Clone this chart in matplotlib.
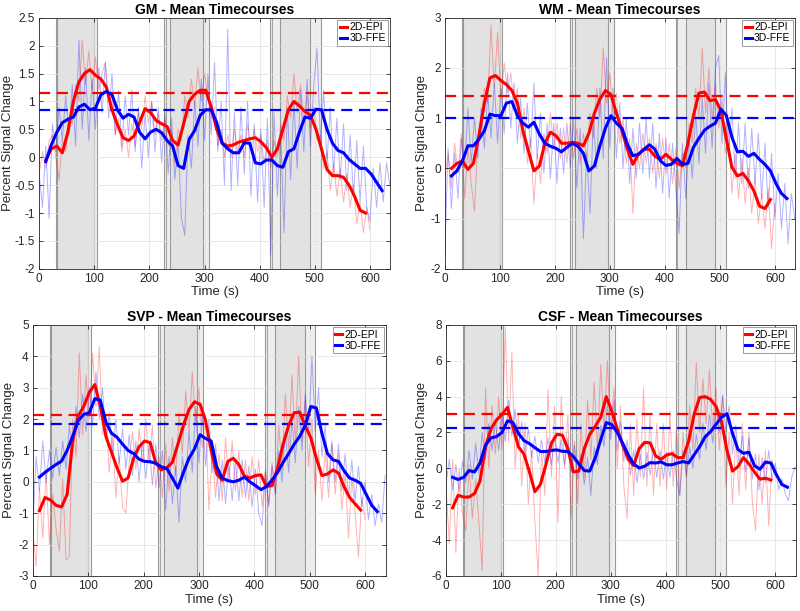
import numpy as np
import matplotlib
matplotlib.use("Agg")
import matplotlib.pyplot as plt
from matplotlib.ticker import FuncFormatter

plt.rcParams['font.family'] = ['Liberation Sans', 'DejaVu Sans']

""" Block timing (s) : two overlapping task blocks per cycle """
blocks_a = [(30.4, 100), (226.7, 297), (419.5, 491)]
blocks_b = [(32.7, 104.4), (236.4, 307.3), (437.6, 510.4)]
extra_lines = [230.4, 422.5]

""" Mean timecourses, moving average (every 10 s from 12 s) """
gm_epi_smooth = [-0.05, 0.15, 0.2, 0.08, 0.45, 1.0, 1.35, 1.5, 1.57, 1.47, 1.4, 1.25, 0.85, 0.58, 0.35, 0.3,
                 0.38, 0.62, 0.87, 0.8, 0.66, 0.6, 0.55, 0.3, 0.22, 0.6, 1.0, 1.13, 1.2, 1.2, 0.9, 0.5, 0.25,
                 0.2, 0.22, 0.27, 0.3, 0.33, 0.35, 0.28, 0.17, 0.0, 0.15, 0.5, 0.85, 1.0, 0.92, 0.82, 0.75, 0.5,
                 0.15, -0.22, -0.33, -0.33, -0.36, -0.5, -0.7, -0.95, -1.0]
gm_ffe_smooth = [-0.08, 0.22, 0.45, 0.62, 0.68, 0.72, 0.9, 0.95, 0.85, 0.88, 1.12, 1.18, 1.12, 0.85, 0.7, 0.77,
                 0.72, 0.45, 0.33, 0.45, 0.5, 0.44, 0.3, 0.2, -0.15, -0.2, 0.32, 0.48, 0.75, 0.85, 0.85, 0.62,
                 0.25, 0.15, 0.08, 0.08, 0.26, 0.25, -0.1, -0.12, -0.05, -0.05, -0.15, -0.18, 0.1, 0.15, 0.45,
                 0.72, 0.7, 0.86, 0.85, 0.5, 0.25, 0.12, 0.08, -0.04, -0.12, -0.2, -0.2, -0.3, -0.45, -0.6]
wm_epi_smooth = [0.0, 0.1, 0.15, -0.02, 0.1, 0.65, 1.3, 1.8, 1.85, 1.75, 1.67, 1.55, 1.3, 0.75, 0.35, -0.05,
                 0.05, 0.5, 0.72, 0.65, 0.5, 0.5, 0.52, 0.5, 0.45, 0.7, 1.1, 1.38, 1.55, 1.47, 1.1, 0.75, 0.38,
                 0.08, 0.28, 0.38, 0.38, 0.24, 0.18, 0.28, 0.18, 0.1, 0.05, 0.5, 1.05, 1.5, 1.52, 1.35, 1.37,
                 1.15, 0.58, 0.02, -0.15, -0.1, -0.25, -0.45, -0.75, -0.8, -0.62]
wm_ffe_smooth = [-0.15, -0.05, 0.15, 0.45, 0.45, 0.58, 0.75, 1.08, 1.05, 1.05, 1.3, 1.33, 1.05, 0.9, 0.82, 0.92,
                 0.68, 0.5, 0.44, 0.4, 0.33, 0.42, 0.5, 0.44, 0.3, -0.05, 0.05, 0.45, 0.8, 1.05, 0.9, 0.8, 0.48,
                 0.25, 0.28, 0.38, 0.47, 0.38, 0.15, 0.06, 0.08, 0.2, 0.08, 0.1, 0.42, 0.6, 0.76, 0.84, 0.9,
                 1.18, 1.05, 0.62, 0.33, 0.34, 0.24, 0.3, 0.18, 0.08, -0.05, -0.3, -0.5, -0.6]
svp_epi_smooth = [-0.92, -0.5, -0.58, -0.75, -0.8, -0.4, 1.3, 2.1, 2.4, 2.85, 3.1, 2.4, 1.45, 0.95, 0.45, 0.02,
                  0.12, 0.75, 1.12, 1.3, 1.25, 0.6, 0.38, 0.45, 0.62, 1.2, 1.8, 2.3, 2.55, 2.47, 1.95, 1.0, 0.25,
                  0.05, 0.65, 0.75, 0.55, 0.18, 0.12, 0.2, 0.22, -0.15, -0.12, 0.45, 1.2, 1.8, 2.2, 2.22, 1.78,
                  1.4, 0.75, 0.2, 0.25, 0.38, 0.28, -0.15, -0.5, -0.7, -0.9]
svp_ffe_smooth = [0.15, 0.3, 0.43, 0.55, 0.66, 1.0, 1.45, 1.95, 2.15, 2.2, 2.65, 2.6, 1.9, 1.55, 1.42, 1.2, 1.0,
                  0.9, 0.72, 0.65, 0.64, 0.59, 0.48, 0.42, 0.12, -0.2, 0.3, 0.75, 1.05, 1.5, 1.38, 1.3, 0.48,
                  0.12, 0.04, 0.0, 0.05, 0.15, 0.0, -0.12, -0.25, -0.15, 0.06, 0.3, 0.62, 0.9, 1.2, 1.45, 1.8,
                  2.4, 2.35, 1.55, 0.9, 0.7, 0.65, 0.35, 0.12, 0.05, -0.05, -0.4, -0.75, -0.95]
csf_epi_smooth = [-2.2, -1.5, -1.6, -1.6, -1.4, -0.7, 1.2, 2.2, 2.7, 3.0, 3.4, 2.3, 1.2, 0.8, -0.2, -1.3, -0.9,
                  0.2, 1.4, 1.9, 1.85, 1.1, -0.2, -0.15, 1.1, 1.9, 2.35, 2.85, 4.0, 3.2, 2.2, 1.3, 0.5, 0.15,
                  1.1, 1.45, 1.42, 0.7, 0.5, 0.75, 0.82, 0.6, 0.6, 1.5, 3.0, 3.95, 4.0, 3.85, 3.45, 2.6, 1.0,
                  -0.15, 0.1, 0.6, 0.25, -0.2, -0.6, -0.55, -0.65]
csf_ffe_smooth = [-0.5, -0.62, -0.5, -0.12, -0.2, 0.3, 1.3, 1.7, 1.77, 2.0, 2.65, 2.55, 1.95, 1.55, 1.38, 1.15,
                  0.94, 0.94, 1.0, 1.03, 0.95, 0.94, 0.66, 0.25, -0.12, -0.15, 0.6, 1.6, 2.55, 2.45, 2.0, 1.4,
                  0.75, 0.25, 0.02, 0.12, 0.32, 0.3, 0.36, 0.2, 0.2, 0.3, 0.38, 0.3, 0.75, 1.2, 1.75, 2.05,
                  2.45, 2.85, 3.05, 1.96, 1.05, 0.84, 0.9, 0.15, -0.05, 0.35, 0.3, -0.35, -0.9, -1.05]

""" Raw timecourses (every 6 s from 0 s) """
gm_epi_raw = [-0.3, 0.1, -0.2, 0.3, 0.4, 0.0, -0.4, 0.3, 0.1, 0.7, 0.6, 1.3, 1.0, 2.1, 1.3, 1.9, 1.2, 1.8, 1.2,
              1.5, 1.7, 1.0, 1.1, 0.4, 0.7, 0.1, 0.5, 0.0, 0.6, 0.2, 0.8, 0.5, 1.1, 0.6, 1.0, 0.4, 0.8, 0.3,
              0.7, 0.2, 0.5, -0.1, 0.5, 0.3, 1.1, 0.7, 1.4, 0.9, 1.6, 1.0, 1.5, 1.1, 0.7, 0.9, 0.2, 0.5, 0.0,
              0.4, 0.0, 0.5, 0.1, 0.4, 0.0, 0.6, 0.2, 0.5, 0.1, 0.4, -0.1, 0.3, -0.2, 0.3, 0.0, 0.6, 0.3, 1.1,
              0.7, 1.5, 0.8, 1.3, 0.6, 1.1, 0.5, 0.9, 0.3, 0.4, -0.2, 0.1, -0.6, -0.1, -0.7, -0.2, -0.8, -0.3,
              -0.9, -0.5, -1.2, -0.8, -1.35, -0.9, -1.3]
gm_ffe_raw = [-0.3, -0.9, 0.2, -1.1, 0.6, 0.1, 0.9, 0.3, 1.1, 0.4, 1.3, 0.2, 2.1, 0.5, 1.6, 0.3, 1.4, 0.5, 1.6,
              0.8, 1.7, 0.7, 1.5, 0.4, 1.2, 0.2, 1.1, 0.4, 1.2, 0.1, 0.9, -0.2, 0.8, 0.0, 1.0, 0.1, 0.9, -0.1,
              0.8, -0.3, 0.7, -0.4, 0.3, -1.1, -1.4, 0.4, -0.2, 1.0, 0.2, 1.4, 0.3, 1.5, 0.4, 1.7, 0.1, 1.0,
              -0.5, 2.3, -0.6, 0.8, -0.5, 0.9, -0.3, 1.0, -0.7, 0.6, -0.8, 0.5, -0.9, 0.7, -1.75, 0.8, -0.7,
              0.5, -1.35, 0.9, -0.4, 1.0, -0.2, 1.2, 0.1, 1.4, 0.2, 1.3, 1.95, 0.3, 1.2, -0.1, 0.9, -0.3, 0.7,
              -0.4, 0.6, -0.6, 0.4, -0.7, 0.3, -0.8, 0.2, -0.9, -1.15, -0.2, -0.9, -0.1, -0.8, -0.1, -0.5]
wm_epi_raw = [-0.2, 0.3, -0.4, 0.5, -0.1, 0.7, -0.6, 0.4, -0.3, -0.85, 0.6, 1.0, 1.6, 1.3, 2.85, 1.6, 2.7, 1.4,
              2.1, 1.5, 1.9, 1.2, 1.6, 0.6, 1.2, 0.1, 0.6, -0.7, 0.3, -0.3, 0.7, 0.3, 1.1, 0.4, 0.9, 0.2, 0.8,
              0.1, 0.9, 0.2, 0.8, 0.1, 0.7, 0.2, 1.1, 0.6, 1.6, 1.0, 2.4, 1.3, 1.9, 1.0, 1.5, 0.5, 1.0, 0.1,
              0.6, -0.9, 0.5, 0.0, 0.7, 0.1, 0.6, -0.1, 0.5, -0.2, 0.6, -0.1, 0.5, -0.3, 0.4, -0.4, 0.3, 0.0,
              0.9, 0.5, 1.6, 1.0, 2.4, 1.1, 2.0, 1.0, 1.7, 0.8, 1.4, 0.3, 0.8, -0.5, 0.3, -0.6, 0.2, -0.7, 0.0,
              -0.9, -0.2, -1.1, -0.5, -1.2, -0.4, -1.6, -0.7]
wm_ffe_raw = [-1.7, 0.4, -0.8, 0.3, -0.6, 0.6, 0.0, 1.2, 0.1, 1.0, 0.2, 1.2, 0.4, 1.5, 0.6, 1.7, 0.5, 1.6, 0.7,
              1.9, 0.8, 1.7, 0.5, 1.4, 0.3, 1.3, 0.4, 1.7, 0.2, 1.1, -0.1, 0.9, -0.2, 0.9, -0.3, 0.8, -0.1, 0.9,
              0.0, 1.0, -0.4, 0.8, -1.4, 0.3, -0.9, 1.0, 0.0, 1.6, 0.2, 2.2, 0.4, 1.6, 0.2, 1.3, 0.0, 1.0, -0.3,
              0.8, -0.2, 0.9, -0.1, 1.0, -0.2, 0.9, -0.4, 0.7, -0.5, 0.6, -0.6, 0.5, -0.4, -1.3, 0.5, -0.6, 0.6,
              -0.2, 1.1, 0.1, 1.4, 0.3, 1.7, 0.4, 2.0, 2.25, 0.5, 1.9, 0.3, 1.2, -0.2, 0.9, -0.3, 0.9, -0.4, 0.8,
              -0.3, 0.7, -0.6, 0.5, -0.8, 0.3, -1.0, -0.1, -1.2, -0.3, -1.5, -0.5, -1.0]
svp_epi_raw = [-1.5, -2.7, -0.2, -1.8, 0.3, -2.0, -0.4, -1.5, -2.2, 0.1, -2.5, -2.4, 2.0, 0.8, 4.1, 1.5, 3.4,
               2.0, 4.1, 2.4, 4.3, 1.5, 2.2, 0.3, 1.5, -0.5, 0.8, -0.8, -1.0, 0.6, 1.6, 0.4, 1.7, 0.6, 2.0, 0.6,
               1.8, -0.2, 0.8, -0.5, 1.2, -0.3, 1.4, 0.2, 2.2, 0.9, 2.9, 1.6, 3.5, 1.8, 3.0, 1.1, 2.1, -0.9, 1.0,
               -0.5, 0.9, -0.6, 1.4, 0.0, 1.3, -0.3, 1.0, -0.5, 0.7, -0.6, 0.8, -0.4, 0.7, -0.8, 0.4, -0.7, 0.5,
               -0.4, 1.8, 0.4, 2.8, 1.0, 3.4, 1.2, 4.0, 1.3, 2.6, 0.5, 2.0, -0.4, 1.0, -0.6, 1.0, -0.5, 1.2,
               -0.4, 0.9, -0.9, 0.3, -1.8, 0.1, -1.0, -2.4, -0.5, -1.2]
svp_ffe_raw = [-1.5, 0.8, -0.3, 1.3, 0.0, 1.0, 0.1, 1.1, 0.2, 1.3, 0.4, 1.8, 0.9, 2.4, 1.4, 2.8, 1.6, 3.0, 1.8,
               3.5, 2.0, 3.0, 1.3, 2.2, 0.9, 2.0, 0.6, 1.7, 0.4, 1.5, 0.2, 1.3, 0.0, 1.3, 0.1, 1.2, -0.1, 1.2,
               -0.2, 1.0, -0.9, 0.8, -0.7, 0.5, -1.3, 0.8, 0.0, 1.6, 0.3, 2.4, 0.6, 2.2, 0.5, 2.0, 0.3, 1.2,
               -0.6, 0.7, -0.7, 0.6, -0.6, 0.7, -0.6, 0.7, -0.5, 0.5, -0.8, 0.4, -1.0, -1.4, 0.3, -0.8, 0.6,
               -0.4, 1.0, 0.0, 1.6, 0.3, 2.0, 0.6, 2.4, 1.0, 2.8, 1.5, 4.0, 1.6, 3.0, 0.8, 1.8, 0.0, 1.3, 0.0,
               1.2, -0.3, 0.9, -0.5, 0.7, -0.6, 0.5, -0.8, 0.0, -1.2, -0.4, -1.4, -0.7, -1.3, 0.2]
csf_epi_raw = [-1.0, -4.2, 0.5, -4.7, 0.0, -2.5, -3.5, 0.2, -2.8, -0.6, -3.0, -5.7, 4.5, 0.0, 3.5, 0.8, 4.0,
               1.0, 7.9, 1.5, 6.5, 0.0, 3.0, -1.0, 2.5, -2.0, 1.0, -3.0, -6.0, 1.0, -1.5, 4.4, -0.5, 3.5, -3.0,
               4.0, 0.0, 3.0, -2.8, 1.5, -2.0, 2.5, -0.5, 3.8, 0.5, 4.8, 1.0, 5.8, 2.0, 6.0, 2.0, 4.5, 0.0, 3.5,
               -1.0, -2.8, 2.5, -1.5, 2.8, -0.5, 4.5, -1.0, 3.0, -1.5, 2.5, -1.0, 2.5, -1.2, 3.2, -1.0, 2.2,
               -1.5, 2.0, -0.5, 3.5, 1.0, 5.9, 2.0, 5.0, 2.5, 5.5, 2.0, 4.5, 1.0, 4.0, -1.0, 2.0, -2.0, 1.8,
               -1.5, 2.5, -1.2, 2.0, -1.8, -3.5, 0.8, -2.0, 1.0, -3.2, 0.5, -0.5]
csf_ffe_raw = [-0.9, 0.5, -1.2, 0.2, -1.3, 0.4, -0.8, 1.0, -0.6, 1.4, -0.3, 2.0, 0.5, 2.5, 1.0, 2.6, 1.0, 3.0,
               1.5, 3.8, 1.8, 3.3, 1.2, 2.6, 0.8, 2.2, 0.6, 1.8, 0.3, 1.6, 0.3, 1.7, 0.2, 1.8, 0.3, 1.6, 0.2,
               1.7, -0.2, 1.3, -0.6, 0.8, -0.9, 0.6, -1.5, 1.2, 0.2, 2.4, 1.2, 3.6, 1.6, 3.8, 1.0, 2.6, 0.4,
               1.6, -0.4, 1.0, -0.8, 0.8, -0.6, 0.9, -0.4, 1.1, -0.5, 1.0, -0.6, 0.9, -0.5, 1.0, -0.6, -1.5,
               1.0, -0.4, 1.2, 0.0, 1.9, 0.5, 2.5, 1.0, 3.0, 1.4, 3.5, 2.0, 4.1, 2.0, 3.5, 0.8, 2.4, 0.2, 1.8,
               -0.2, 1.7, -0.6, 0.8, -1.2, 0.6, -0.8, 1.0, -0.6, 0.3, -1.2, -0.6, -1.4, -1.8, -0.5, 0.1]

""" Mean over task blocks (dashed) """
gm_means = [1.15, 0.85]
wm_means = [1.45, 1.0]
svp_means = [2.12, 1.85]
csf_means = [3.05, 2.25]

titles = ['GM - Mean Timecourses', 'WM - Mean Timecourses',
          'SVP - Mean Timecourses', 'CSF - Mean Timecourses']
ylims = [(-2, 2.5), (-2, 3), (-3, 5), (-6, 8)]
yticks = [np.arange(-2, 2.51, 0.5), np.arange(-2, 3.1, 1), np.arange(-3, 5.1, 1), np.arange(-6, 8.1, 2)]
panels = [(gm_epi_raw, gm_ffe_raw, gm_epi_smooth, gm_ffe_smooth, gm_means),
          (wm_epi_raw, wm_ffe_raw, wm_epi_smooth, wm_ffe_smooth, wm_means),
          (svp_epi_raw, svp_ffe_raw, svp_epi_smooth, svp_ffe_smooth, svp_means),
          (csf_epi_raw, csf_ffe_raw, csf_epi_smooth, csf_ffe_smooth, csf_means)]
positions = [[0.049, 0.560, 0.439, 0.411], [0.556, 0.560, 0.438, 0.411],
             [0.041, 0.0573, 0.441, 0.411], [0.5575, 0.0573, 0.437, 0.411]]
ylabel_x = [-0.072, -0.049, -0.050, -0.052]

fig = plt.figure(figsize=(8, 6.11), dpi=100)

for k in range(4):
    ax = fig.add_axes(positions[k])
    epi_raw, ffe_raw, epi_s, ffe_s, means = panels[k]

    # blocks
    for (a, b) in blocks_a + blocks_b:
        ax.axvspan(a, b, facecolor='0.75', alpha=0.25, edgecolor='none', zorder=0)
        ax.axvline(a, color='0.6', lw=0.8, zorder=0.5)
        ax.axvline(b, color='0.6', lw=0.8, zorder=0.5)
    for x in extra_lines:
        ax.axvline(x, color='0.65', lw=0.8, zorder=0.5)

    # raw data
    ax.plot(np.arange(len(epi_raw)) * 6, epi_raw, color='red', lw=0.7, alpha=0.3, zorder=1)
    ax.plot(np.arange(len(ffe_raw)) * 6, ffe_raw, color='blue', lw=0.7, alpha=0.3, zorder=1)

    # smoothed
    l1, = ax.plot(12 + np.arange(len(epi_s)) * 10, epi_s, color='red', lw=2.2, zorder=3, label='2D-EPI')
    l2, = ax.plot(12 + np.arange(len(ffe_s)) * 10, ffe_s, color='blue', lw=2.2, zorder=3, label='3D-FFE')

    ax.axhline(means[0], color='red', lw=1.6, ls=(0, (5, 3)), zorder=2)
    ax.axhline(means[1], color='blue', lw=1.6, ls=(0, (5, 3)), zorder=2)

    ax.set_xlim(0, 637)
    ax.set_ylim(ylims[k])
    ax.set_xticks(np.arange(0, 601, 100))
    ax.set_yticks(yticks[k])
    ax.yaxis.set_major_formatter(FuncFormatter(lambda v, p: '%g' % v))
    ax.grid(color='0.88', lw=0.5)
    ax.set_axisbelow(True)
    ax.tick_params(direction='in', length=3, labelsize=8.5, colors='0.15',
                   top=True, right=True, width=0.6, pad=3)
    for s in ax.spines.values():
        s.set_color('0.15')
        s.set_linewidth(0.6)
    ax.set_xlabel('Time (s)', fontsize=9.5, color='0.15', labelpad=1)
    ax.set_ylabel('Percent Signal Change', fontsize=9.5, color='0.15')
    ax.yaxis.set_label_coords(ylabel_x[k], 0.5)
    ax.set_title(titles[k], fontsize=10, fontweight='bold', pad=3)
    leg = ax.legend(handles=[l1, l2], loc='upper right', fontsize=7.5, handlelength=0.7,
                    handletextpad=0.2, borderpad=0.25, borderaxespad=0.2, labelspacing=0.1,
                    fancybox=False, framealpha=1)
    leg.get_frame().set_edgecolor('0.55')
    leg.get_frame().set_linewidth(0.6)

plt.savefig('out.png', dpi=100)
plt.close()
